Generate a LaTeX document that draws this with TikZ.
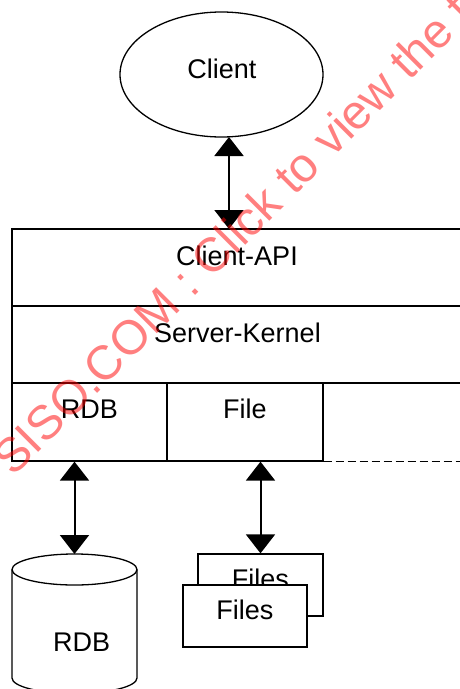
\documentclass[tikz,border=0pt]{standalone}
\usepackage{fontspec}
\setmainfont{Liberation Sans}
\usetikzlibrary{arrows.meta,shapes.geometric,calc}
\begin{document}
\begin{tikzpicture}[x=1pt,y=-1pt,
  box/.style={draw,line width=1.3pt,inner sep=0pt,fill=white},
  lbl/.style={anchor=base,inner sep=0pt,font=\fontsize{27}{32}\selectfont},
  dbl/.style={line width=2pt,{Triangle[length=19pt,width=29pt]}-{Triangle[length=19pt,width=29pt]}},
  wmark/.style={anchor=base west,rotate=45,inner sep=0pt,text=red,text opacity=0.5,font=\fontsize{48}{56}\selectfont}
]
\useasboundingbox (0,0) rectangle (460,689);
\clip (0,0) rectangle (460,689);
\fill[white] (0,0) rectangle (460,689);

% client
\node[box,ellipse,minimum width=203pt,minimum height=125pt] (client) at (221.5,74.5) {};
\node[lbl] (clientt) at (222,78.3) {Client};

% server stack
\node[box,minimum width=451pt,minimum height=77pt] (api) at (237.5,267.5) {};
\node[box,minimum width=451pt,minimum height=77pt] (kernel) at (237.5,344.5) {};
\node[box,minimum width=155pt,minimum height=78pt] (rdbcell) at (89.5,422) {};
\node[box,minimum width=156pt,minimum height=78pt] (filecell) at (245,422) {};
\draw[line width=1.3pt,dash pattern=on 8pt off 4pt] (filecell.south east) -- (filecell.south east -| api.east);

\node[lbl] (apit) at (237,265) {Client-API};
\node[lbl] (kernelt) at (237.5,342.7) {Server-Kernel};
\node[lbl] (rdbt) at (89.5,418.7) {RDB};
\node[lbl] (filet) at (245,418.7) {File};

% client arrow
\coordinate (ct) at (229,137);
\coordinate (ab) at (229,229);
\draw[dbl] (ct) -- (ab);

% database cylinder
\coordinate (dbtop) at (74.5,554);
\fill[white] (12,569.5) -- (12,678) .. controls (12,686.56) and (39.98,693.5) .. (74.5,693.5)
  .. controls (109.02,693.5) and (137,686.56) .. (137,678) -- (137,569.5) -- cycle;
\draw[line width=1.3pt] (12,569.5) -- (12,678) .. controls (12,686.56) and (39.98,693.5) .. (74.5,693.5)
  .. controls (109.02,693.5) and (137,686.56) .. (137,678) -- (137,569.5);
\draw[line width=1.3pt,fill=white] (74.5,569.5) ellipse [x radius=62.5, y radius=15.5];
\node[lbl] (dbt) at (81.7,651.7) {RDB};

% files
\node[box,minimum width=125pt,minimum height=62pt] (files2) at (260.5,585) {};
\node[lbl] (files2t) at (260.5,588) {Files};
\node[box,minimum width=124pt,minimum height=62pt] (files1) at (245,616) {};
\node[lbl] (files1t) at (245,619.3) {Files};

% lower arrows
\draw[dbl] (dbtop |- rdbcell.south) -- (dbtop);
\draw[dbl] (files2.north |- filecell.south) -- (files2.north);

% watermark
\node[wmark] (wm) at (13.2,477.8) {SISO.COM : Click to view the f};
\end{tikzpicture}
\end{document}
